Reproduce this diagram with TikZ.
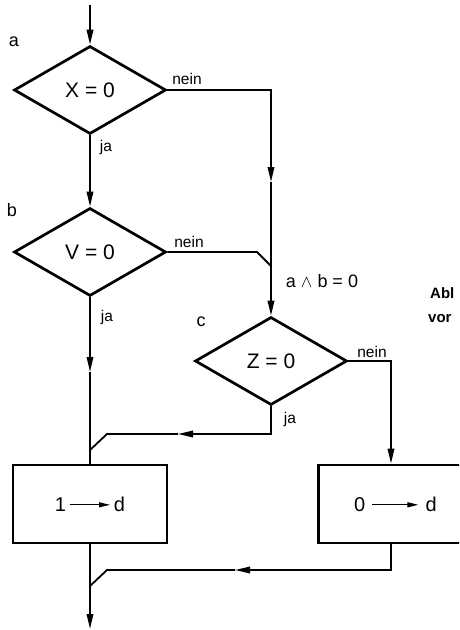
\documentclass[tikz,border=0pt]{standalone}
\usepackage{fontspec}
\setmainfont{Liberation Sans}
\newfontfamily\capfont{Liberation Sans}
\usetikzlibrary{shapes.geometric,arrows.meta,calc}
\tikzset{
  tip/.style={-{Triangle[length=15pt,width=6.5pt]}},
  conn/.style={line width=1.8pt},
  decision/.style={draw, shape=diamond, line width=2.7pt, minimum width=152pt, minimum height=88pt, inner sep=0pt, font=\fontsize{21}{24}\selectfont},
  proc/.style={draw, rectangle, line width=2.7pt, minimum width=154pt, minimum height=78pt, inner sep=0pt, font=\fontsize{20}{23}\selectfont},
  lbl/.style={font=\fontsize{15.5}{18}\selectfont, inner sep=0pt},
  tag/.style={font=\fontsize{18}{20}\selectfont, inner sep=0pt},
  captext/.style={font=\capfont\bfseries\fontsize{15}{18}\selectfont, inner sep=0pt, anchor=base west}
}
\newcommand{\smallarr}[1]{\tikz[baseline=-0.6ex]\draw[line width=1.1pt,-{Triangle[length=11pt,width=5pt]}] (0,0) -- (#1,0);}
\begin{document}
\begin{tikzpicture}[x=1pt,y=-1pt]
\useasboundingbox (0,0) rectangle (459,630);
\clip (0,0) rectangle (459,630);
% nodes
\node[decision] (dX) at (90,90) {X = 0};
\node[decision] (dV) at (90,252) {V = 0};
\node[decision] (dZ) at (271,361) {Z = 0};
\node[proc] (b1) at (90,504) {1\,\smallarr{40pt}\,d};
\node[proc, minimum width=220pt, anchor=west] (b0) at (317,504) {0\,\,\smallarr{46pt}\,\,d\hspace*{66pt}};
% coordinates
\coordinate (startc) at (90,5);
\coordinate (m1) at (271,182);
\coordinate (j2) at (257,252);
\coordinate (j3) at (271,266);
\coordinate (m2) at (90,372);
\coordinate (m3) at (178,434);
\coordinate (k1) at (107,434);
\coordinate (k2) at (90,450);
\coordinate (m4) at (235,570);
\coordinate (k3) at (107,570);
\coordinate (k4) at (90,586);
\coordinate (endc) at (90,629);
% connectors
\draw[conn,tip] (startc) -- (dX.north);
\draw[conn,tip] (dX.south) -- (dV.north);
\draw[conn,tip] (dX.east) -| (m1);
\draw[conn,tip] (m1) -- (dZ.north);
\draw[conn] (dV.east) -- (j2) -- (j3);
\draw[conn,tip] (dV.south) -- (m2);
\draw[conn] (m2) -- (b1.north);
\draw[conn,tip] (dZ.south) |- (m3);
\draw[conn] (m3) -- (k1) -- (k2);
\draw[conn,tip] (dZ.east) -| ($(b0.north west)+(74,0)$);
\draw[conn,tip] ($(b0.south west)+(74,0)$) |- (m4);
\draw[conn] (m4) -- (k3) -- (k4);
\draw[conn,tip] (b1.south) -- (endc);
% labels
\node[tag] (la) at (14,42) {a};
\node[tag] (lb) at (12,210) {b};
\node[tag] (lc) at (201,322) {c};
\node[lbl] (nX) at (187,79) {nein};
\node[lbl] (jX) at (106,147) {ja};
\node[lbl] (nV) at (189,242) {nein};
\node[lbl] (jV) at (107,317) {ja};
\node[lbl] (nZ) at (372,352) {nein};
\node[lbl] (jZ) at (290,419) {ja};
\node[tag] (ab) at (322,281) {a $\wedge$ b = 0};
\node[captext] (c1) at (430,298) {Abl};
\node[captext] (c2) at (428,322) {vor};
\end{tikzpicture}
\end{document}
